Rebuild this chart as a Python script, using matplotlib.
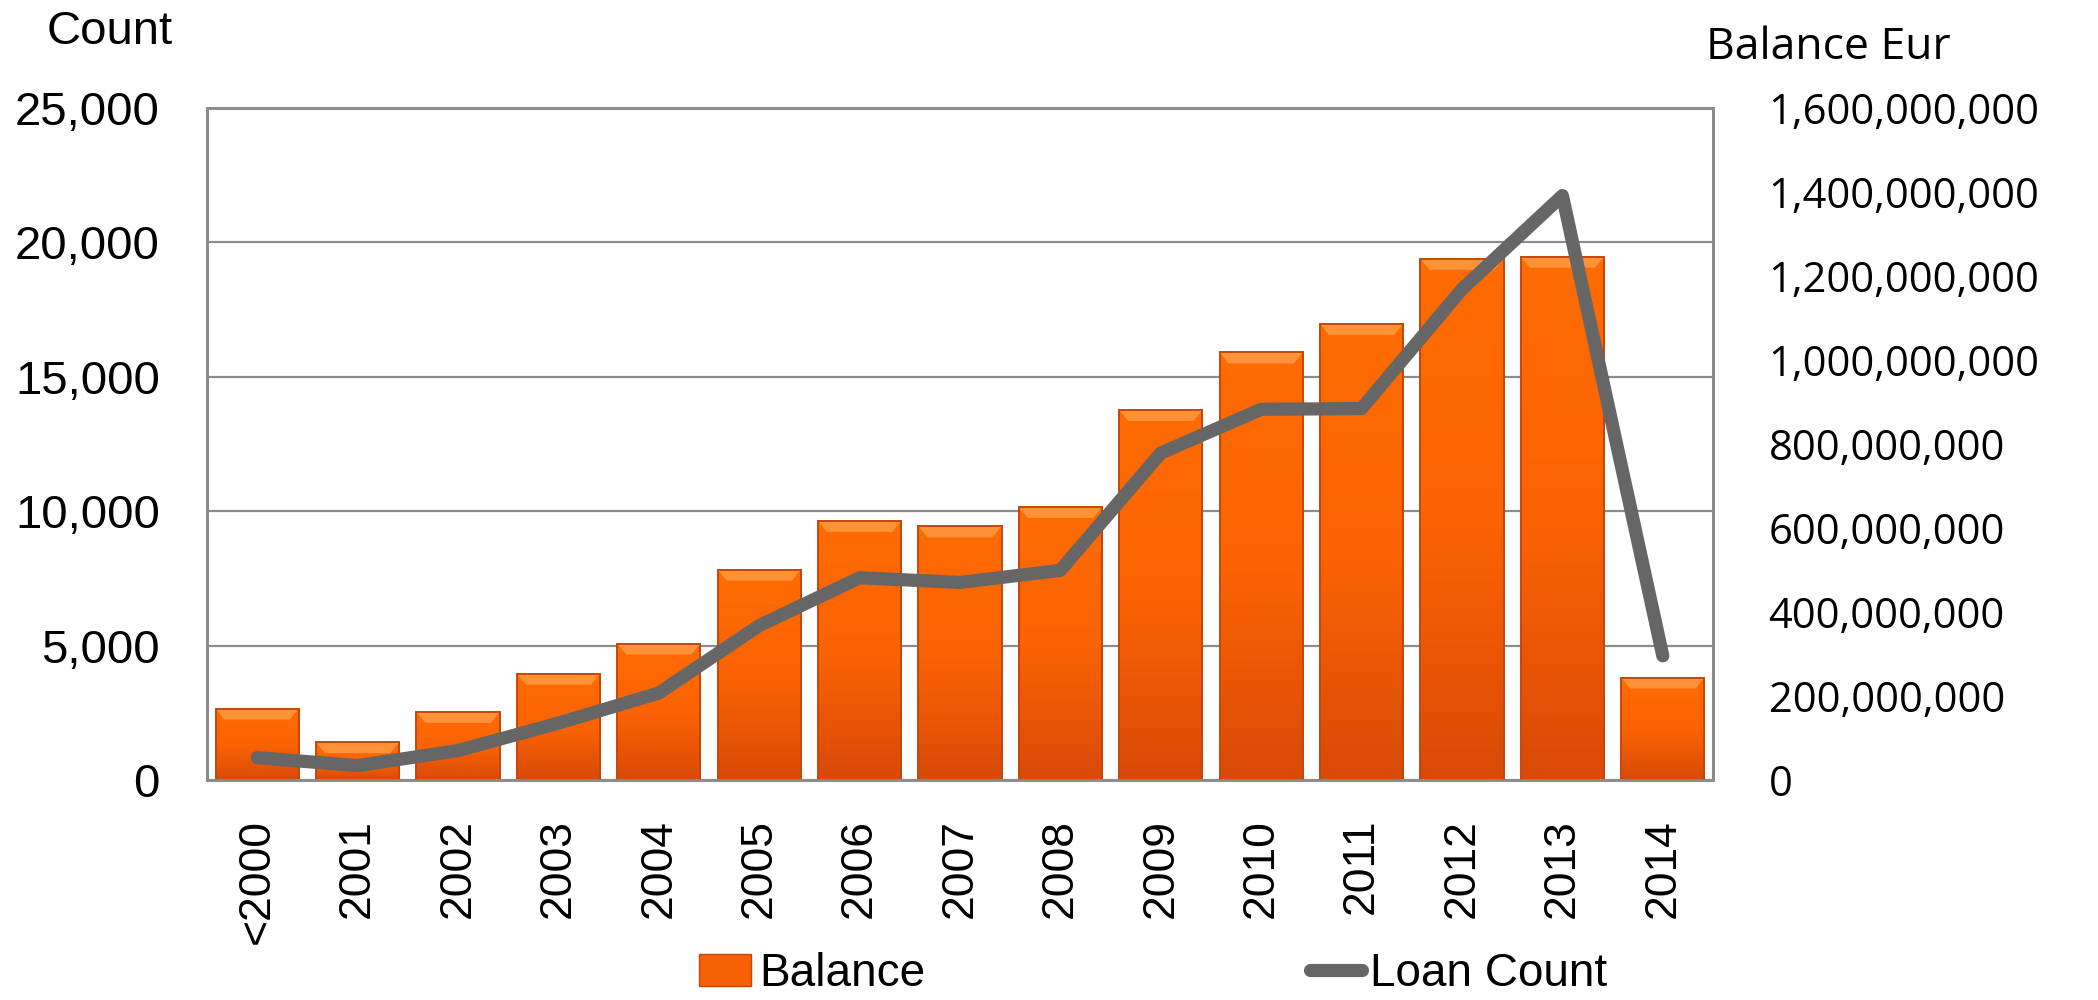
import numpy as np
import matplotlib.pyplot as plt
from matplotlib.colors import LinearSegmentedColormap
from matplotlib.patches import Patch, Polygon
from matplotlib.lines import Line2D
from matplotlib.ticker import FuncFormatter

years = ['<2000', '2001', '2002', '2003', '2004', '2005', '2006', '2007',
         '2008', '2009', '2010', '2011', '2012', '2013', '2014']
balance_eur = [170e6, 90e6, 162e6, 253e6, 325e6, 501e6, 617e6, 604e6,
               650e6, 881e6, 1018e6, 1086e6, 1241e6, 1246e6, 244e6]
loan_count = [830, 535, 1095, 2115, 3235, 5745, 7525, 7350,
              7800, 12165, 13790, 13820, 18260, 21740, 4620]

count_ticks = [0, 5000, 10000, 15000, 20000, 25000]
eur_ticks = [0, 200e6, 400e6, 600e6, 800e6, 1000e6, 1200e6, 1400e6, 1600e6]

plt.rcParams['font.family'] = ['Liberation Sans', 'DejaVu Sans']
calibri_like = ['Open Sans', 'DejaVu Sans']

grid_col = '#8c8c8c'
line_col = '#666666'
bar_edge = '#c4470c'

fig = plt.figure(figsize=(20.98, 10), dpi=100)
ax = fig.add_axes([207 / 2098, 0.22, 1506 / 2098, 0.672])
ax2 = ax.twinx()          # balance bars, right scale
ax3 = ax.twinx()          # loan count line drawn above the bars
ax3.sharey(ax)

x = np.arange(len(years))

# count axis: grid and left labels
ax.set_xlim(-0.5, len(years) - 0.5)
ax.set_ylim(0, 25000)
ax.set_yticks(count_ticks)
ax.yaxis.set_major_formatter(FuncFormatter(lambda v, p: f'{v:,.0f}'))
ax.grid(axis='y', color=grid_col, linewidth=1.6)
ax.set_axisbelow(True)
ax.tick_params(axis='y', length=0, pad=34, labelsize=34)
ax.set_xticks(x)
ax.set_xticklabels(years, rotation=90, va='top', ha='center', fontsize=32)
ax.tick_params(axis='x', length=0, pad=28)

# balance axis: bars
ax2.set_ylim(0, 1600e6)
ax2.set_yticks(eur_ticks)
ax2.yaxis.set_major_formatter(FuncFormatter(lambda v, p: f'{v:,.0f}'))
ax2.tick_params(axis='y', length=0, pad=40)
for t in ax2.get_yticklabels():
    t.set_fontfamily(calibri_like)
    t.set_fontsize(30)

bars = ax2.bar(x, balance_eur, width=0.83, color='#f86005', zorder=2)
cmap = LinearSegmentedColormap.from_list('orange_fade', ['#ff6c02', '#fb6303', '#d94a08'])
grad = np.linspace(0, 1, 256).reshape(-1, 1)
bevel_h = 1600e6 * 11 / 672
for r in bars:
    x0, w, h = r.get_x(), r.get_width(), r.get_height()
    im = ax2.imshow(grad, extent=(x0, x0 + w, 0, h), origin='upper', cmap=cmap,
                    aspect='auto', zorder=2.1)
    im.set_clip_path(r)
    ax2.add_patch(Polygon([(x0, h), (x0 + w, h), (x0 + w - 0.09, h - bevel_h),
                           (x0 + 0.09, h - bevel_h)],
                          closed=True, facecolor='#ff9236', edgecolor='none', zorder=2.2))
ax2.bar(x, balance_eur, width=0.83, fill=False, edgecolor=bar_edge, linewidth=1.4, zorder=2.3)
ax2.set_xlim(-0.5, len(years) - 0.5)

# loan count line
ax3.plot(x, loan_count, color=line_col, linewidth=9.5,
         solid_capstyle='round', solid_joinstyle='round', zorder=3)
ax3.set_axis_off()

for a in (ax, ax2):
    for s in a.spines.values():
        s.set_color(grid_col)
        s.set_linewidth(2)

fig.text(47 / 2098, 0.956, 'Count', fontsize=34, ha='left', va='baseline')
fig.text(1706 / 2098, 0.941, 'Balance Eur', fontsize=32, ha='left', va='baseline',
         family=calibri_like)

handles = [Patch(facecolor='#f86005', edgecolor=bar_edge),
           Line2D([], [], color=line_col, linewidth=9.5, solid_capstyle='round')]
fig.legend(handles, ['Balance', 'Loan Count'], loc='center',
           bbox_to_anchor=(1153 / 2098, 0.026), ncol=2, frameon=False,
           prop={'size': 33}, columnspacing=8.4,
           handlelength=1.13, handleheight=0.7, handletextpad=0.17)

fig.savefig('out.png', dpi=100)
